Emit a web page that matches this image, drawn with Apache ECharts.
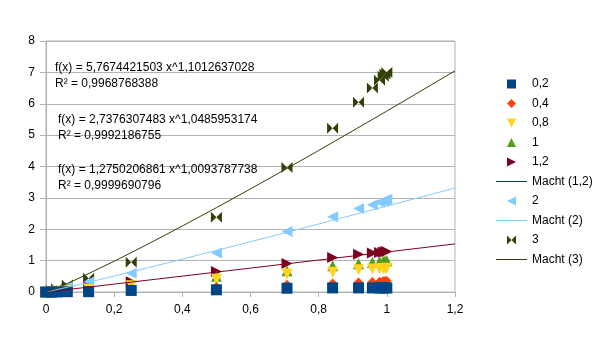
<!DOCTYPE html>
<html>
<head>
<meta charset="utf-8">
<script src="https://cdn.jsdelivr.net/npm/echarts@6/dist/echarts.min.js"></script>
<style>html,body{margin:0;padding:0;background:#fff}#c{width:605px;height:340px}</style>
</head>
<body>
<div id="c"></div>
<script>
// x positions shared by all measured series
const xValues = [0, 0.015625, 0.03125, 0.0625, 0.125, 0.25, 0.5, 0.7071, 0.8409, 0.917, 0.9576, 0.9786, 0.9892, 0.9946, 1];
const s02 = [0, 0, 0, 0.01, 0.01, 0.05, 0.07, 0.12, 0.13, 0.13, 0.13, 0.13, 0.13, 0.13, 0.13];
const s04 = [0, 0.01, 0.01, 0.02, 0.04, 0.08, 0.16, 0.23, 0.27, 0.3, 0.32, 0.33, 0.34, 0.35, 0.35];
const s08 = [0, 0.01, 0.02, 0.04, 0.09, 0.2, 0.41, 0.57, 0.63, 0.71, 0.73, 0.74, 0.75, 0.75, 0.76];
const s1  = [0, 0.01, 0.03, 0.06, 0.12, 0.25, 0.5, 0.68, 0.84, 0.9, 0.95, 0.97, 0.98, 0.99, 1.0];
const s12 = [0, 0.02, 0.04, 0.08, 0.16, 0.33, 0.65, 0.91, 1.1, 1.2, 1.24, 1.26, 1.27, 1.28, 1.29];
const s2  = [0, 0.04, 0.08, 0.16, 0.32, 0.6, 1.24, 1.93, 2.4, 2.66, 2.78, 2.86, 2.9, 2.93, 2.95];
const s3  = [0, 0.05, 0.1, 0.22, 0.44, 0.95, 2.38, 3.97, 5.22, 6.05, 6.5, 6.75, 6.88, 6.95, 7.0];

// trend lines (power fits)
const trendX12 = [0, 0.1, 0.2, 0.4, 0.6, 0.8, 1.0, 1.2];
const trend12  = [0, 0.125, 0.251, 0.506, 0.761, 1.018, 1.275, 1.533];
const trendX2  = [0, 0.1, 0.2, 0.4, 0.6, 0.8, 1.0, 1.2];
const trend2   = [0, 0.245, 0.506, 1.047, 1.602, 2.167, 2.738, 3.314];
const trendX3  = [0, 0.02, 0.05, 0.1, 0.2, 0.3, 0.4, 0.5, 0.6, 0.7, 0.8, 0.9, 1.0, 1.1, 1.2];
const trend3   = [0, 0.078, 0.213, 0.457, 0.980, 1.532, 2.103, 2.688, 3.286, 3.894, 4.511, 5.136, 5.767, 6.406, 7.050];

const seriesNames = ['0,2', '0,4', '0,8', '1', '1,2', 'Macht (1,2)', '2', 'Macht (2)', '3', 'Macht (3)'];
const xTickLabels = ['0', '0,2', '0,4', '0,6', '0,8', '1', '1,2'];
const yTickLabels = ['0', '1', '2', '3', '4', '5', '6', '7', '8'];
const equations = [
  ['f(x) = 5,7674421503 x^1,1012637028', 'R² = 0,9968768388'],
  ['f(x) = 2,7376307483 x^1,0485953174', 'R² = 0,9992186755'],
  ['f(x) = 1,2750206861 x^1,0093787738', 'R² = 0,9999690796']
];

const FONT = '"Liberation Sans", Arial, sans-serif';
const pair = (xs, ys) => xs.map((x, i) => [x, ys[i]]);

const SYM = {
  square: 'path://M0,0L10,0L10,10L0,10Z',
  diamond: 'path://M5,0L10,5L5,10L0,5Z',
  down: 'path://M0,0L10,0L5,10Z',
  up: 'path://M5,0L10,10L0,10Z',
  right: 'path://M0,0L10,5L0,10Z',
  left: 'path://M10,0L0,5L10,10Z',
  bowtie: 'path://M0,0L5,5L0,10Z M10,0L5,5L10,10Z',
  line: 'path://M0,0L31,0L31,1L0,1Z'
};

function scatter(name, ys, symbol, color, size, z) {
  return {
    name, type: 'scatter', data: pair(xValues, ys), symbol, symbolSize: size,
    itemStyle: { color, opacity: 1 }, z, silent: true, animation: false
  };
}
function trend(name, xs, ys, color) {
  return {
    name, type: 'line', data: pair(xs, ys), showSymbol: false, symbol: 'none',
    lineStyle: { color, width: 1 }, itemStyle: { color }, z: 30, silent: true, animation: false
  };
}

const chart = echarts.init(document.getElementById('c'), null, { renderer: 'canvas' });

const graphics = [];
const eqPos = [[55, 68, 84], [58, 120, 135.5], [58, 170, 186]];
equations.forEach((lines, i) => {
  lines.forEach((t, j) => {
    graphics.push({
      type: 'text', x: eqPos[i][0], y: eqPos[i][j + 1], z: 100,
      style: { text: t, fill: '#000', font: '12px ' + FONT, verticalAlign: 'middle', align: 'left' }
    });
  });
});

const legendIcons = [SYM.square, SYM.diamond, SYM.down, SYM.up, SYM.right, SYM.line, SYM.left, SYM.line, SYM.bowtie, SYM.line];

chart.setOption({
  animation: false,
  backgroundColor: '#fff',
  grid: { left: 46, right: 150, top: 41, bottom: 48, show: true, borderColor: '#b3b3b3', borderWidth: 1, containLabel: false },
  xAxis: {
    type: 'value', min: 0, max: 1.2, interval: 0.2,
    axisLine: { show: true, lineStyle: { color: '#b3b3b3' } },
    axisTick: { show: true, length: 5, lineStyle: { color: '#b3b3b3' } },
    splitLine: { show: false },
    axisLabel: { color: '#000', fontFamily: FONT, fontSize: 12, margin: 12,
      formatter: v => xTickLabels[Math.round(v / 0.2)] }
  },
  yAxis: {
    type: 'value', min: 0, max: 8, interval: 1,
    axisLine: { show: true, lineStyle: { color: '#b3b3b3' } },
    axisTick: { show: true, length: 6, lineStyle: { color: '#b3b3b3' } },
    splitLine: { show: true, lineStyle: { color: '#b3b3b3' } },
    axisLabel: { color: '#000', fontFamily: FONT, fontSize: 12, margin: 11,
      formatter: v => yTickLabels[Math.round(v)] }
  },
  legend: {
    orient: 'vertical', left: 491, top: 73, itemWidth: 31, itemHeight: 9, itemGap: 7.5,
    textStyle: { color: '#000', fontFamily: FONT, fontSize: 12 },
    data: seriesNames.map((n, i) => ({ name: n, icon: legendIcons[i] })), selectedMode: false
  },
  graphic: graphics,
  series: [
    scatter(seriesNames[0], s02, SYM.square, '#004586', 11, 20),
    scatter(seriesNames[1], s04, SYM.diamond, '#ff420e', 10, 19),
    scatter(seriesNames[2], s08, SYM.down, '#ffd320', 11, 18),
    scatter(seriesNames[3], s1, SYM.up, '#579d1c', 11, 17),
    scatter(seriesNames[4], s12, SYM.right, '#7e0021', 11, 16),
    trend(seriesNames[5], trendX12, trend12, '#7e0021'),
    scatter(seriesNames[6], s2, SYM.left, '#83caff', 11, 15),
    trend(seriesNames[7], trendX2, trend2, '#83caff'),
    scatter(seriesNames[8], s3, SYM.bowtie, '#314004', 11, 14),
    trend(seriesNames[9], trendX3, trend3, '#314004')
  ]
});
</script>
</body>
</html>
